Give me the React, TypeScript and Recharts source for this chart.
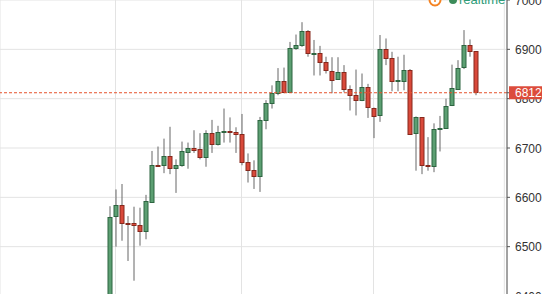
import React from 'react';
import { ComposedChart, Bar, XAxis, YAxis, CartesianGrid, ReferenceLine } from 'recharts';

// daily candles
const opens = [
  6390, 6561, 6584, 6548, 6547, 6543, 6531, 6592, 6666, 6664, 6683, 6659, 6665, 6693, 6701, 6697,
  6681, 6730, 6707, 6732, 6734, 6732, 6728, 6671, 6655, 6643, 6756, 6791, 6812, 6836, 6813, 6902,
  6908, 6937, 6892, 6893, 6874, 6857, 6839, 6854, 6819, 6807, 6797, 6823, 6782, 6766, 6900, 6882,
  6835, 6837, 6859, 6730, 6762, 6665, 6663, 6739, 6741, 6786, 6821, 6863, 6908, 6896,
];
const highs = [
  6582, 6616, 6627, 6562, 6581, 6579, 6605, 6694, 6703, 6719, 6743, 6677, 6713, 6711, 6736, 6730,
  6736, 6757, 6745, 6780, 6762, 6742, 6769, 6689, 6675, 6763, 6797, 6827, 6862, 6863, 6915, 6930,
  6955, 6939, 6919, 6907, 6885, 6884, 6884, 6868, 6827, 6859, 6851, 6830, 6782, 6929, 6922, 6895,
  6885, 6889, 6860, 6764, 6762, 6722, 6750, 6765, 6800, 6869, 6878, 6939, 6920, 6896,
];
const lows = [
  6380, 6500, 6512, 6471, 6431, 6502, 6515, 6590, 6662, 6649, 6647, 6609, 6662, 6658, 6690, 6677,
  6662, 6690, 6705, 6711, 6711, 6690, 6665, 6630, 6617, 6611, 6738, 6780, 6807, 6811, 6812, 6899,
  6905, 6885, 6847, 6847, 6851, 6811, 6838, 6813, 6776, 6766, 6795, 6761, 6720, 6753, 6868, 6815,
  6815, 6817, 6728, 6654, 6647, 6654, 6651, 6693, 6740, 6785, 6820, 6860, 6885, 6807,
];
const closes = [
  6561, 6584, 6547, 6547, 6542, 6531, 6592, 6666, 6664, 6683, 6659, 6665, 6693, 6701, 6697, 6681,
  6730, 6707, 6732, 6734, 6732, 6728, 6671, 6655, 6643, 6756, 6791, 6812, 6836, 6813, 6902, 6908,
  6937, 6892, 6893, 6874, 6857, 6839, 6854, 6819, 6807, 6797, 6823, 6782, 6766, 6900, 6882, 6835,
  6837, 6859, 6730, 6762, 6665, 6663, 6738, 6741, 6786, 6821, 6863, 6908, 6896, 6812,
];
const priceTicks = [6400, 6500, 6600, 6700, 6800, 6900, 7000];
const monthLines = [1, 22, 44, 65.8];

const data = opens.map((open, i) => ({ i, open, high: highs[i], low: lows[i], close: closes[i] }));
const last = closes[closes.length - 1];
// the last price tag is drawn as one more tick, after 6800, so it sits on top of it
const axisTicks = [...priceTicks, last].sort((a, b) => a - b);

const font = "'Liberation Sans', Arial, sans-serif";

const Candle = (props: any) => {
  const { x, y, width, height, payload } = props;
  const { open, close, high, low } = payload;
  const k = height / (high - low || 1);
  const toY = (v: number) => y + (high - v) * k;
  const up = close >= open;
  const cx = x + width / 2;
  const top = toY(Math.max(open, close));
  const bottom = toY(Math.min(open, close));
  return (
    <g>
      <line x1={cx} x2={cx} y1={y} y2={y + height} stroke="#666" strokeWidth={1} />
      <rect
        x={x + 0.5}
        y={Math.round(top) + 0.5}
        width={width - 1}
        height={Math.max(Math.round(bottom - top), 1)}
        fill={up ? '#5c9f72' : '#d9493a'}
        stroke={up ? '#2d6540' : '#86281c'}
        strokeWidth={1}
      />
    </g>
  );
};

const PriceTick = ({ x, y, payload }: any) => {
  if (payload.value === last) {
    return (
      <g>
        <rect x={x - 6} y={y - 6.5} width={40} height={13} fill="#dc4c3c" />
        <text x={x} y={y + 4.5} fill="#fff" fontSize={12} fontFamily={font}>
          {last}
        </text>
      </g>
    );
  }
  return (
    <text x={x} y={y + 4.5} fill="#333" fontSize={12} fontFamily={font}>
      {payload.value}
    </text>
  );
};

export default function App() {
  return (
    <div style={{ position: 'fixed', left: 0, top: 0, width: 542, height: 294, overflow: 'hidden', background: '#fff' }}>
      <div style={{ position: 'absolute', left: 0, top: -20 }}>
        <ComposedChart width={542} height={336} data={data} margin={{ top: 20, right: 0, bottom: 20, left: 0 }}>
          <CartesianGrid stroke="#e3e3e3" horizontalValues={priceTicks} />
          <XAxis dataKey="i" type="number" domain={[-18.25, 66.25]} ticks={monthLines} hide allowDataOverflow />
          <YAxis
            orientation="right"
            width={35}
            domain={[6400, 7000]}
            ticks={axisTicks}
            interval={0}
            allowDataOverflow
            axisLine={{ stroke: '#555' }}
            tickLine={{ stroke: '#555' }}
            tickSize={3}
            tickMargin={5}
            tick={<PriceTick />}
          />
          <ReferenceLine y={last} stroke="#e5532d" strokeDasharray="3 2" />
          <Bar dataKey={(d: any) => [d.low, d.high]} barSize={5} shape={<Candle />} isAnimationActive={false} />
        </ComposedChart>
      </div>
      <svg width={542} height={20} style={{ position: 'absolute', left: 0, top: 0 }}>
        <circle cx={435} cy={0} r={5.5} fill="#fff" stroke="#f58220" strokeWidth={2} />
        <line x1={435} x2={435} y1={0} y2={2} stroke="#f58220" strokeWidth={1.5} />
        <circle cx={453} cy={0} r={4} fill="#3c8c5a" />
        <text x={459} y={3.5} fill="#2e9c78" fontSize={13} fontFamily={font}>
          realtime
        </text>
      </svg>
    </div>
  );
}
